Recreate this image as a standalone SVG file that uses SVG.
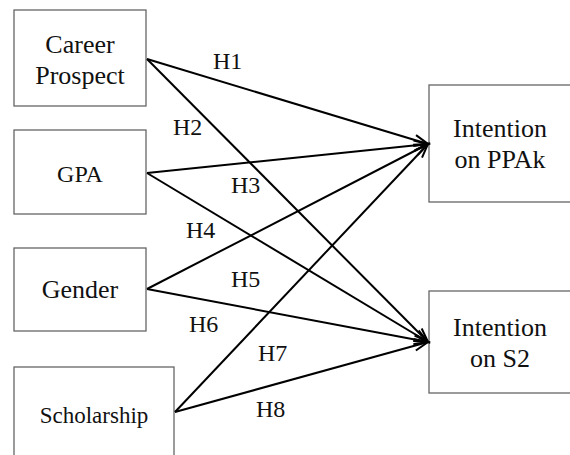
<svg xmlns="http://www.w3.org/2000/svg" width="570" height="455" viewBox="0 0 570 455">
<style>
.box{fill:#fff;stroke:#666;stroke-width:1.3}
text{font-family:"Liberation Serif","Times New Roman",serif;fill:#111}
.t{text-anchor:middle}
.lbl{font-size:24px}
.c{stroke:#000;stroke-width:2;fill:none;marker-end:url(#arr)}
</style>
<defs>
<marker id="arr" markerUnits="userSpaceOnUse" orient="auto" refX="0" refY="0" markerWidth="20" markerHeight="20" overflow="visible">
<path d="M-14,-5 L0,0 L-14,5" fill="none" stroke="#000" stroke-width="2"/>
</marker>
</defs>
<rect width="570" height="455" fill="#fff"/>
<g id="career"><rect class="box" x="14" y="10" width="132" height="96"/><text class="t" x="80" y="53" font-size="26">Career</text><text class="t" x="80" y="84" font-size="26">Prospect</text></g>
<g id="gpa"><rect class="box" x="14" y="130" width="132" height="84"/><text class="t" x="80" y="182" font-size="24">GPA</text></g>
<g id="gender"><rect class="box" x="14" y="248" width="132" height="83"/><text class="t" x="80" y="298" font-size="26">Gender</text></g>
<g id="scholarship"><rect class="box" x="14" y="367" width="160" height="100"/><text class="t" x="94" y="423" font-size="23">Scholarship</text></g>
<g id="ppak"><rect class="box" x="429" y="85" width="160" height="117"/><text class="t" x="500" y="137" font-size="26">Intention</text><text class="t" x="500" y="168" font-size="26">on PPAk</text></g>
<g id="s2"><rect class="box" x="429" y="291" width="160" height="102"/><text class="t" x="500" y="336" font-size="26">Intention</text><text class="t" x="500" y="367" font-size="26">on S2</text></g>
<g id="connectors">
<line class="c" x1="147" y1="59" x2="428" y2="144"/>
<line class="c" x1="147" y1="59" x2="428" y2="342"/>
<line class="c" x1="147" y1="173" x2="428" y2="144"/>
<line class="c" x1="147" y1="173" x2="428" y2="342"/>
<line class="c" x1="147" y1="289" x2="428" y2="144"/>
<line class="c" x1="147" y1="289" x2="428" y2="342"/>
<line class="c" x1="175" y1="412" x2="428" y2="144"/>
<line class="c" x1="175" y1="412" x2="428" y2="342"/>
<text class="lbl" x="213" y="69">H1</text>
<text class="lbl" x="173" y="135">H2</text>
<text class="lbl" x="231" y="193">H3</text>
<text class="lbl" x="186" y="238">H4</text>
<text class="lbl" x="231" y="287">H5</text>
<text class="lbl" x="189" y="332">H6</text>
<text class="lbl" x="258" y="361">H7</text>
<text class="lbl" x="256" y="417">H8</text>
</g>
</svg>
